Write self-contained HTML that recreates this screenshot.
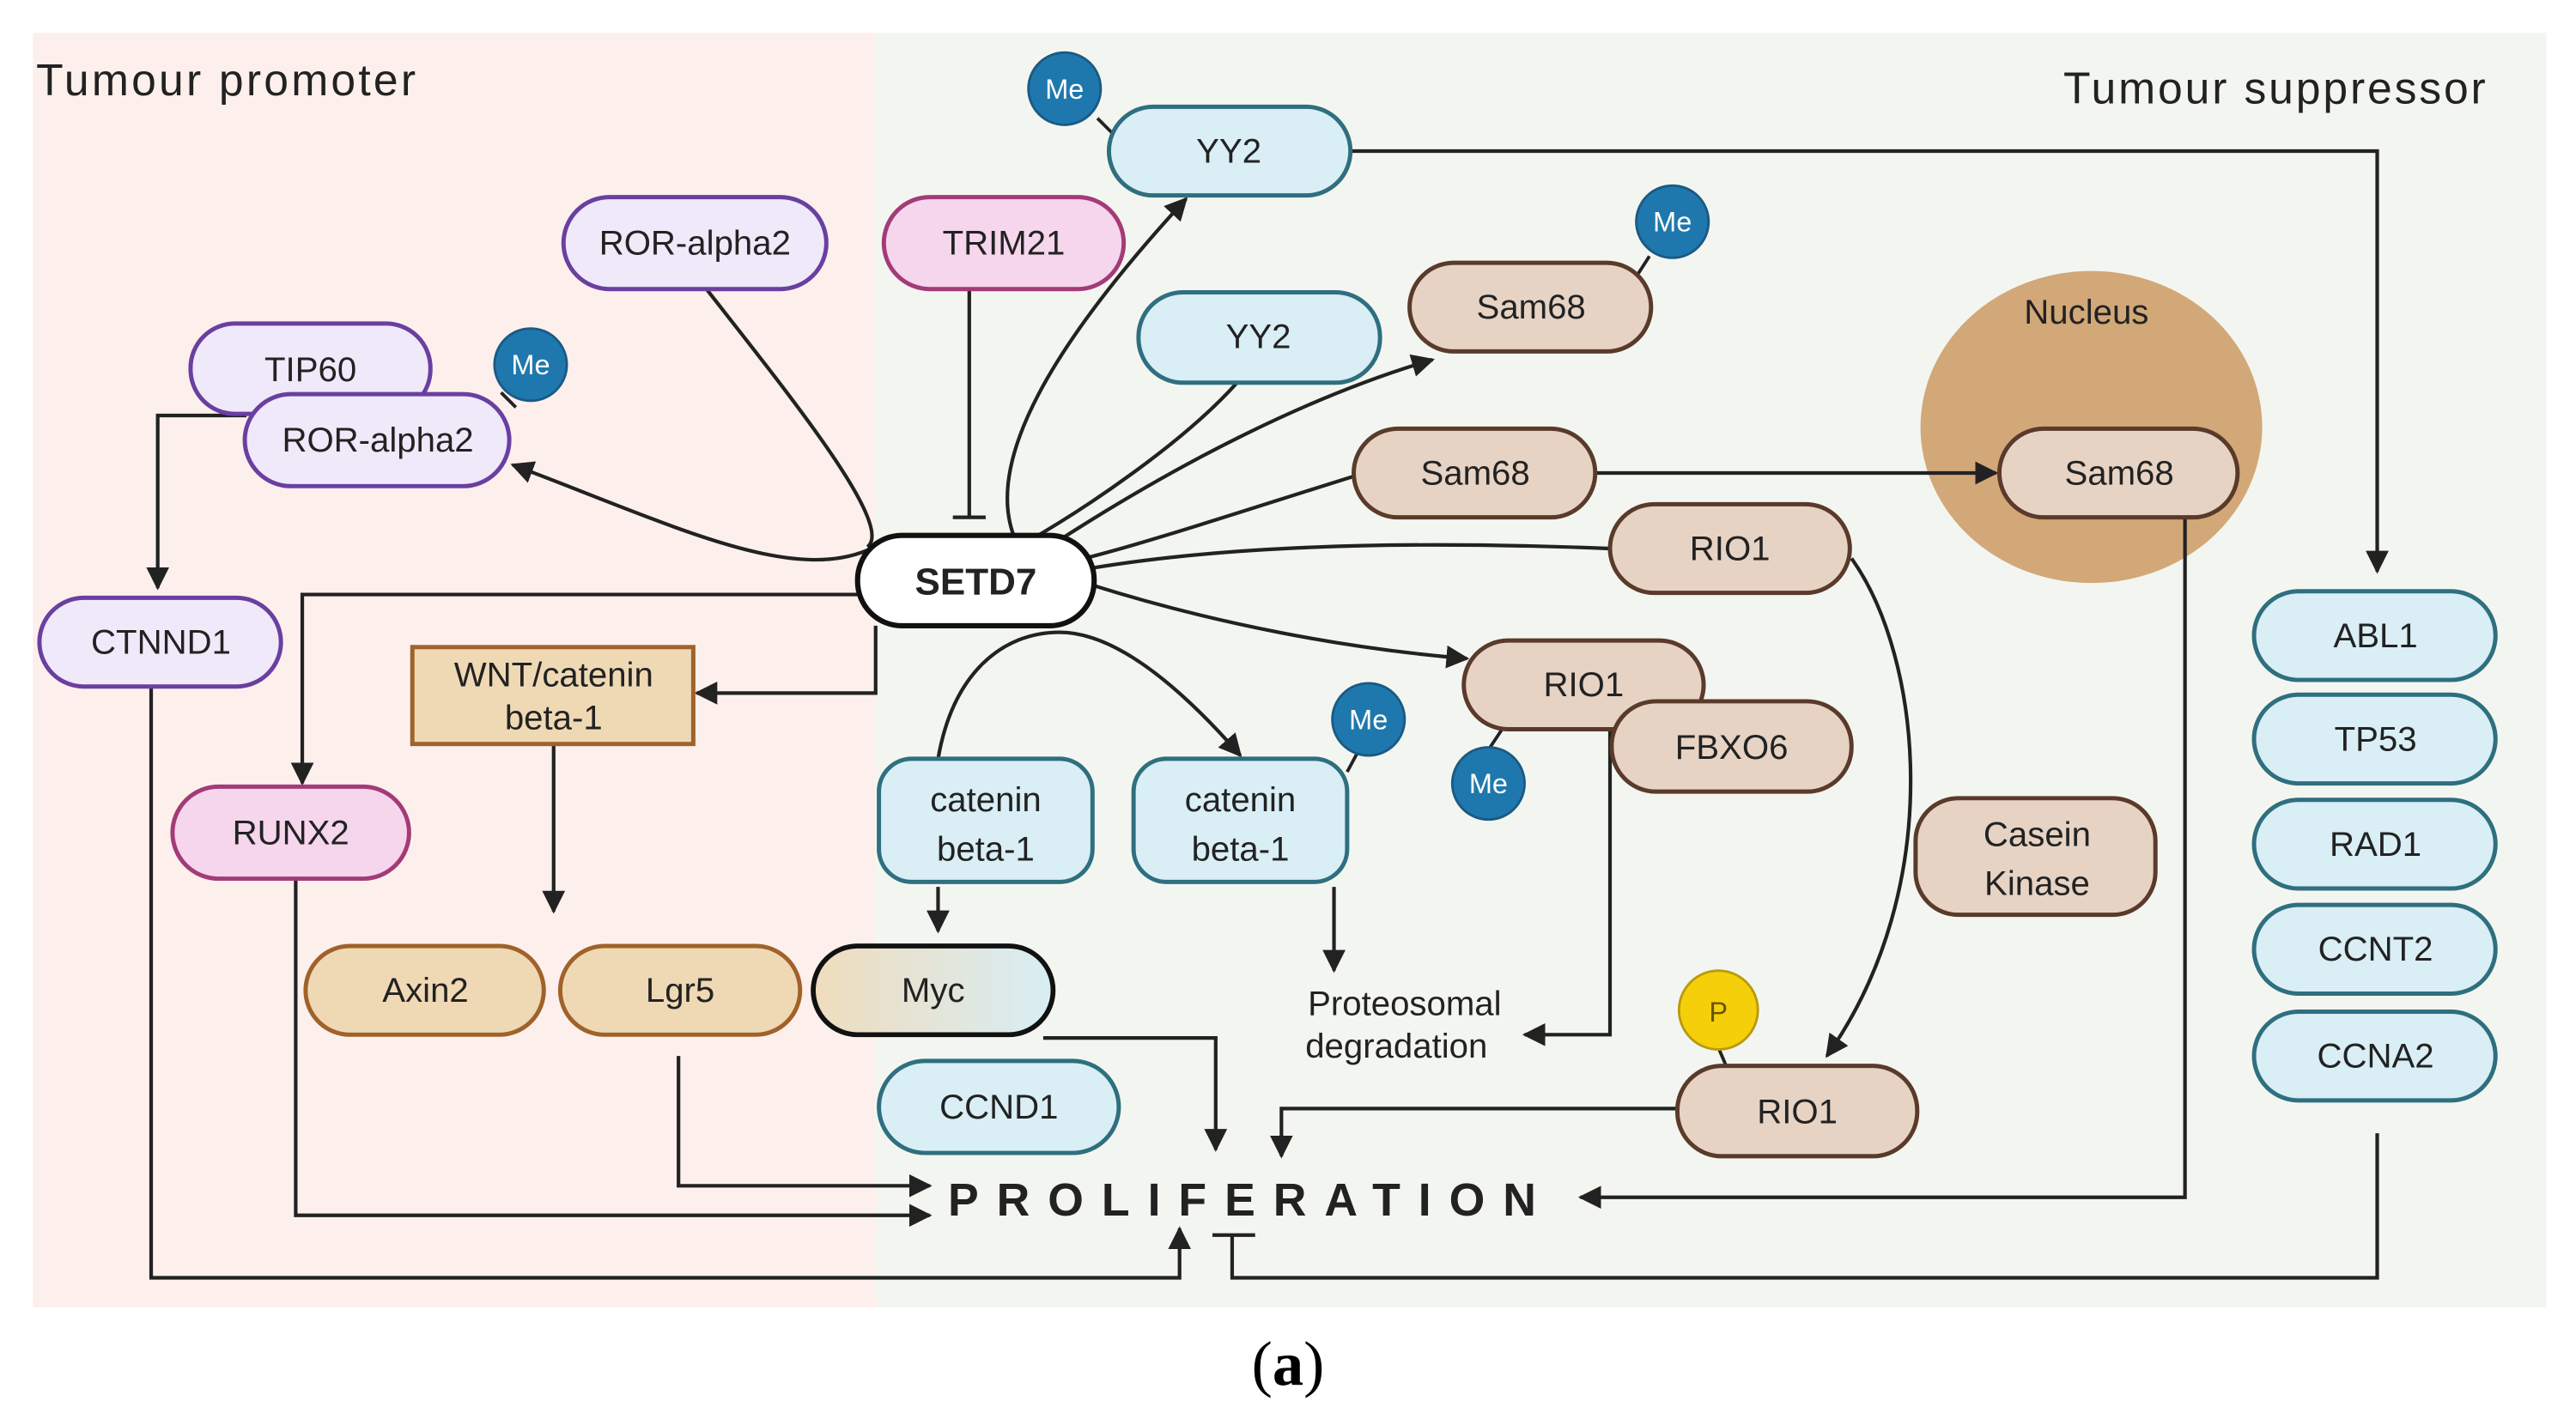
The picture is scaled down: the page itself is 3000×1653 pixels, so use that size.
<!DOCTYPE html>
<html><head><meta charset="utf-8"><style>
html,body{margin:0;padding:0;background:#fff;}
svg{display:block;}
</style></head><body>
<svg width="3000" height="1653" viewBox="0 0 1568 864" preserveAspectRatio="none" xmlns="http://www.w3.org/2000/svg" font-family="Liberation Sans, sans-serif">
<defs>
<marker id="A" viewBox="0 0 10 10" refX="9" refY="5" markerWidth="14" markerHeight="14" orient="auto" markerUnits="userSpaceOnUse"><path d="M0,0 L10,5 L0,10 z" fill="#222"/></marker>
<linearGradient id="myc" x1="0" x2="1"><stop offset="0" stop-color="#efdcbd"/><stop offset="1" stop-color="#d8eef4"/></linearGradient>
</defs>
<rect x="20" y="20" width="513" height="776" fill="#fdf0ec"/>
<rect x="533" y="20" width="1017" height="776" fill="#f3f6f0"/>
<text x="22" y="58" font-size="27" fill="#222" textLength="231">Tumour promoter</text>
<text x="1256" y="63" font-size="27" fill="#222" textLength="257">Tumour suppressor</text>
<ellipse cx="1273" cy="260" rx="104" ry="95" fill="#d2a878"/>
<text x="1270" y="197" font-size="21" text-anchor="middle" fill="#222">Nucleus</text>

<g fill="none" stroke="#222" stroke-width="2.2">
<path d="M822,92 H1447 V348" marker-end="url(#A)"/>
<path d="M430,176 C480,240 545,320 528,333"/>
<path d="M528,335 C480,355 410,320 312,283" marker-end="url(#A)"/>
<path d="M590,176 V315 M580,315 H600"/>
<path d="M617,326 C600,280 640,210 722,121" marker-end="url(#A)"/>
<path d="M753,233 C720,270 660,310 625,330"/>
<path d="M640,332 C720,280 800,240 872,219" marker-end="url(#A)"/>
<path d="M824,290 C760,310 700,330 660,340"/>
<path d="M971,288 H1215" marker-end="url(#A)"/>
<path d="M664,346 C760,330 880,330 980,334"/>
<path d="M664,356 C740,380 820,395 893,401" marker-end="url(#A)"/>
<path d="M522,362 H184 V477" marker-end="url(#A)"/>
<path d="M533,381 V422 H424" marker-end="url(#A)"/>
<path d="M337,453 V555" marker-end="url(#A)"/>
<path d="M571,462 C580,410 610,385 645,385 C680,385 720,420 755,460" marker-end="url(#A)"/>
<path d="M571,540 V567" marker-end="url(#A)"/>
<path d="M812,540 V591" marker-end="url(#A)"/>
<path d="M980,444 V630 H928" marker-end="url(#A)"/>
<path d="M1127,340 C1170,400 1185,540 1112,643" marker-end="url(#A)"/>
<path d="M1330,315 V729 H962" marker-end="url(#A)"/>
<path d="M1021,675 H780 V704" marker-end="url(#A)"/>
<path d="M635,632 H740 V700" marker-end="url(#A)"/>
<path d="M413,643 V722 H566" marker-end="url(#A)"/>
<path d="M180,535 V740 H566" marker-end="url(#A)"/>
<path d="M92,418 V778 H718 V748" marker-end="url(#A)"/>
<path d="M1447,690 V778 H750 V752 M738,752 H764"/>
<path d="M150,253 H96 V358" marker-end="url(#A)"/>
<path d="M668,72 L680,84 M305,239 L314,248 M1004,156 L995,170 M820,470 L827,457 M907,455 L915,443 M1046,638 L1052,652" stroke-width="2"/>
</g>

<g stroke-width="2.6" font-size="21" text-anchor="middle" fill="#222">
<g fill="#d9eef5" stroke="#2f6f7f">
<rect x="675" y="65" width="147" height="54" rx="27"/>
<rect x="693" y="178" width="147" height="55" rx="27"/>
<rect x="535" y="462" width="130" height="75" rx="20"/>
<rect x="690" y="462" width="130" height="75" rx="20"/>
<rect x="535" y="646" width="146" height="56" rx="28"/>
<rect x="1372" y="360" width="147" height="54" rx="27"/>
<rect x="1372" y="423" width="147" height="54" rx="27"/>
<rect x="1372" y="487" width="147" height="54" rx="27"/>
<rect x="1372" y="551" width="147" height="54" rx="27"/>
<rect x="1372" y="616" width="147" height="54" rx="27"/>
</g>
<g fill="#efe9fa" stroke="#6a3fa0">
<rect x="343" y="120" width="160" height="56" rx="28"/>
<rect x="116" y="197" width="146" height="55" rx="27"/>
<rect x="149" y="240" width="161" height="56" rx="28"/>
<rect x="24" y="364" width="147" height="54" rx="27"/>
</g>
<g fill="#f6d6ec" stroke="#a33b78">
<rect x="538" y="120" width="146" height="56" rx="28"/>
<rect x="105" y="479" width="144" height="56" rx="28"/>
</g>
<g fill="#e6d3c4" stroke="#5a3a2a">
<rect x="858" y="160" width="147" height="54" rx="27"/>
<rect x="824" y="261" width="147" height="54" rx="27"/>
<rect x="1217" y="261" width="145" height="54" rx="27"/>
<rect x="980" y="307" width="146" height="54" rx="27"/>
<rect x="891" y="390" width="146" height="54" rx="27"/>
<rect x="981" y="427" width="146" height="55" rx="27"/>
<rect x="1166" y="486" width="146" height="71" rx="26"/>
<rect x="1021" y="649" width="146" height="55" rx="27"/>
</g>
<g fill="#efd9b4" stroke="#a0622a">
<rect x="251" y="394" width="171" height="59"/>
<rect x="186" y="576" width="145" height="54" rx="27"/>
<rect x="341" y="576" width="146" height="54" rx="27"/>
</g>
<rect x="495" y="576" width="146" height="54" rx="27" fill="url(#myc)" stroke="#111" stroke-width="3"/>
<rect x="522" y="326" width="144" height="55" rx="27" fill="#fff" stroke="#111" stroke-width="3.2"/>

<g stroke="none">
<text x="748" y="99">YY2</text>
<text x="766" y="212">YY2</text>
<text x="600" y="494">catenin</text><text x="600" y="524">beta-1</text>
<text x="755" y="494">catenin</text><text x="755" y="524">beta-1</text>
<text x="608" y="681">CCND1</text>
<text x="1446" y="394">ABL1</text>
<text x="1446" y="457">TP53</text>
<text x="1446" y="521">RAD1</text>
<text x="1446" y="585">CCNT2</text>
<text x="1446" y="650">CCNA2</text>
<text x="423" y="155">ROR-alpha2</text>
<text x="189" y="232">TIP60</text>
<text x="230" y="275">ROR-alpha2</text>
<text x="98" y="398">CTNND1</text>
<text x="611" y="155">TRIM21</text>
<text x="177" y="514">RUNX2</text>
<text x="932" y="194">Sam68</text>
<text x="898" y="295">Sam68</text>
<text x="1290" y="295">Sam68</text>
<text x="1053" y="341">RIO1</text>
<text x="964" y="424">RIO1</text>
<text x="1054" y="462">FBXO6</text>
<text x="1240" y="515">Casein</text><text x="1240" y="545">Kinase</text>
<text x="1094" y="684">RIO1</text>
<text x="337" y="418">WNT/catenin</text><text x="337" y="444">beta-1</text>
<text x="259" y="610">Axin2</text>
<text x="414" y="610">Lgr5</text>
<text x="568" y="610">Myc</text>
<text x="594" y="362" font-size="23" font-weight="bold">SETD7</text>
<text x="855" y="618">Proteosomal</text>
<text x="850" y="644">degradation</text>
</g>
</g>
<text x="577" y="740" font-size="28" font-weight="bold" fill="#222" textLength="358" lengthAdjust="spacing">PROLIFERATION</text>

<g stroke="#1a5a84" stroke-width="1.5" fill="#1f78ad">
<circle cx="648" cy="54" r="22"/><circle cx="323" cy="222" r="22"/>
<circle cx="1018" cy="135" r="22"/><circle cx="833" cy="438" r="22"/>
<circle cx="906" cy="477" r="22"/>
</g>
<circle cx="1046" cy="615" r="24" fill="#f5cf0a" stroke="#b89a10" stroke-width="1.5"/>
<g font-size="17" fill="#fff" text-anchor="middle">
<text x="648" y="60">Me</text><text x="323" y="228">Me</text>
<text x="1018" y="141">Me</text><text x="833" y="444">Me</text>
<text x="906" y="483">Me</text>
<text x="1046" y="622" fill="#6a5400">P</text>
</g>
<text x="784" y="843" font-size="38" font-family="Liberation Serif, serif" text-anchor="middle" fill="#000">(<tspan font-weight="bold">a</tspan>)</text>
</svg>
</body></html>
